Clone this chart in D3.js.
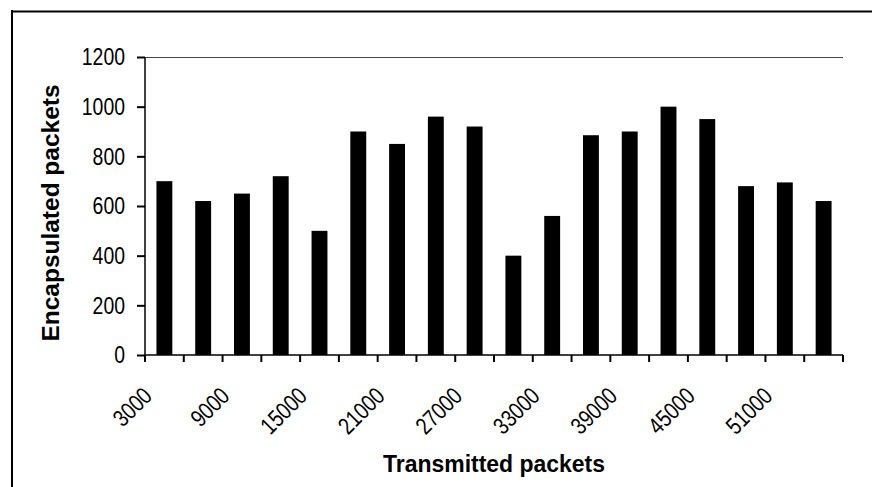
<!DOCTYPE html>
<html>
<head>
<meta charset="utf-8">
<script src="https://cdn.jsdelivr.net/npm/d3@7"></script>
<style>
  html, body { margin: 0; padding: 0; background: #fff; }
  svg { display: block; }
</style>
</head>
<body>
<svg id="chart" width="872" height="487"></svg>
<script>
const categories = ["3000","6000","9000","12000","15000","18000","21000","24000","27000",
                    "30000","33000","36000","39000","42000","45000","48000","51000","54000"];
const values = [700, 620, 650, 720, 500, 900, 850, 960, 920,
                400, 560, 885, 900, 1000, 950, 680, 695, 620];
const yTicks = [0, 200, 400, 600, 800, 1000, 1200];
const xLabelCats = ["3000","9000","15000","21000","27000","33000","39000","45000","51000"];
const xTitle = "Transmitted packets";
const yTitle = "Encapsulated packets";

(function () {
const svg = d3.select("#chart");
const pLeft = 145, pRight = 843, pTop = 57, pBottom = 355;
const digitW = 10.8;
const tickFont = "'Liberation Sans Narrow', 'Arial Narrow', 'Liberation Sans', Arial, sans-serif";

// outer frame (left and top edges)
svg.append("line").attr("x1", 12).attr("x2", 12).attr("y1", 10).attr("y2", 487)
  .attr("stroke", "#000").attr("stroke-width", 2);
svg.append("line").attr("x1", 11).attr("x2", 872).attr("y1", 11.5).attr("y2", 11.5)
  .attr("stroke", "#000").attr("stroke-width", 2);

const x = d3.scaleBand().domain(categories).range([pLeft, pRight])
  .paddingInner(0.59).paddingOuter(0.295);
const y = d3.scaleLinear().domain([0, 1200]).range([pBottom, pTop]);

// top border of plot area
svg.append("line").attr("x1", pLeft).attr("x2", pRight).attr("y1", y(1200) + 0.5).attr("y2", y(1200) + 0.5)
  .attr("stroke", "#444").attr("stroke-width", 1.2);

// bars
svg.append("g").selectAll("rect").data(values).join("rect")
  .attr("x", (d, i) => x(categories[i]))
  .attr("width", x.bandwidth())
  .attr("y", d => y(d))
  .attr("height", d => y(0) - y(d))
  .attr("fill", "#000");

// y axis
const yAxis = d3.axisLeft(y).tickValues(yTicks).tickSize(8).tickPadding(12).tickFormat(d3.format("d"));
const gy = svg.append("g").attr("transform", `translate(${pLeft},0)`).call(yAxis);
gy.select(".domain").attr("stroke", "#000").attr("stroke-width", 1.5).attr("d", `M0,${pTop}V${pBottom}`);
gy.selectAll(".tick line").attr("stroke", "#000").attr("stroke-width", 2);
gy.selectAll(".tick text")
  .attr("font-family", tickFont)
  .attr("font-size", 24).attr("fill", "#000")
  .attr("textLength", d => String(d).length * digitW)
  .attr("lengthAdjust", "spacingAndGlyphs");

// x axis line
const step = x.step();
const off = (step - x.bandwidth()) / 2;
svg.append("line").attr("x1", pLeft).attr("x2", pRight).attr("y1", pBottom).attr("y2", pBottom)
  .attr("stroke", "#000").attr("stroke-width", 1.5);
// x ticks at category boundaries
const bounds = categories.map(c => x(c) - off).concat([x(categories[categories.length - 1]) - off + step]);
svg.append("g").selectAll("line").data(bounds).join("line")
  .attr("x1", d => d).attr("x2", d => d)
  .attr("y1", pBottom).attr("y2", pBottom + 7)
  .attr("stroke", "#000").attr("stroke-width", 2);

// x tick labels
svg.append("g").selectAll("text").data(xLabelCats).join("text")
  .attr("transform", d => `translate(${x(d) + x.bandwidth() / 2 - 17},391.5) rotate(-45)`)
  .attr("text-anchor", "end")
  .attr("dominant-baseline", "central")
  .attr("font-family", tickFont)
  .attr("font-size", 24)
  .attr("fill", "#000")
  .attr("textLength", d => d.length * digitW)
  .attr("lengthAdjust", "spacingAndGlyphs")
  .text(d => d);

// axis titles
svg.append("text")
  .attr("x", 494).attr("y", 471.5)
  .attr("text-anchor", "middle")
  .attr("font-family", "'Liberation Sans', Arial, sans-serif")
  .attr("font-weight", "bold").attr("font-size", 23)
  .attr("textLength", 222).attr("lengthAdjust", "spacingAndGlyphs")
  .text(xTitle);

svg.append("text")
  .attr("transform", `translate(59,213) rotate(-90)`)
  .attr("text-anchor", "middle")
  .attr("font-family", "'Liberation Sans', Arial, sans-serif")
  .attr("font-weight", "bold").attr("font-size", 23)
  .attr("textLength", 257).attr("lengthAdjust", "spacingAndGlyphs")
  .text(yTitle);
})();
</script>
</body>
</html>
